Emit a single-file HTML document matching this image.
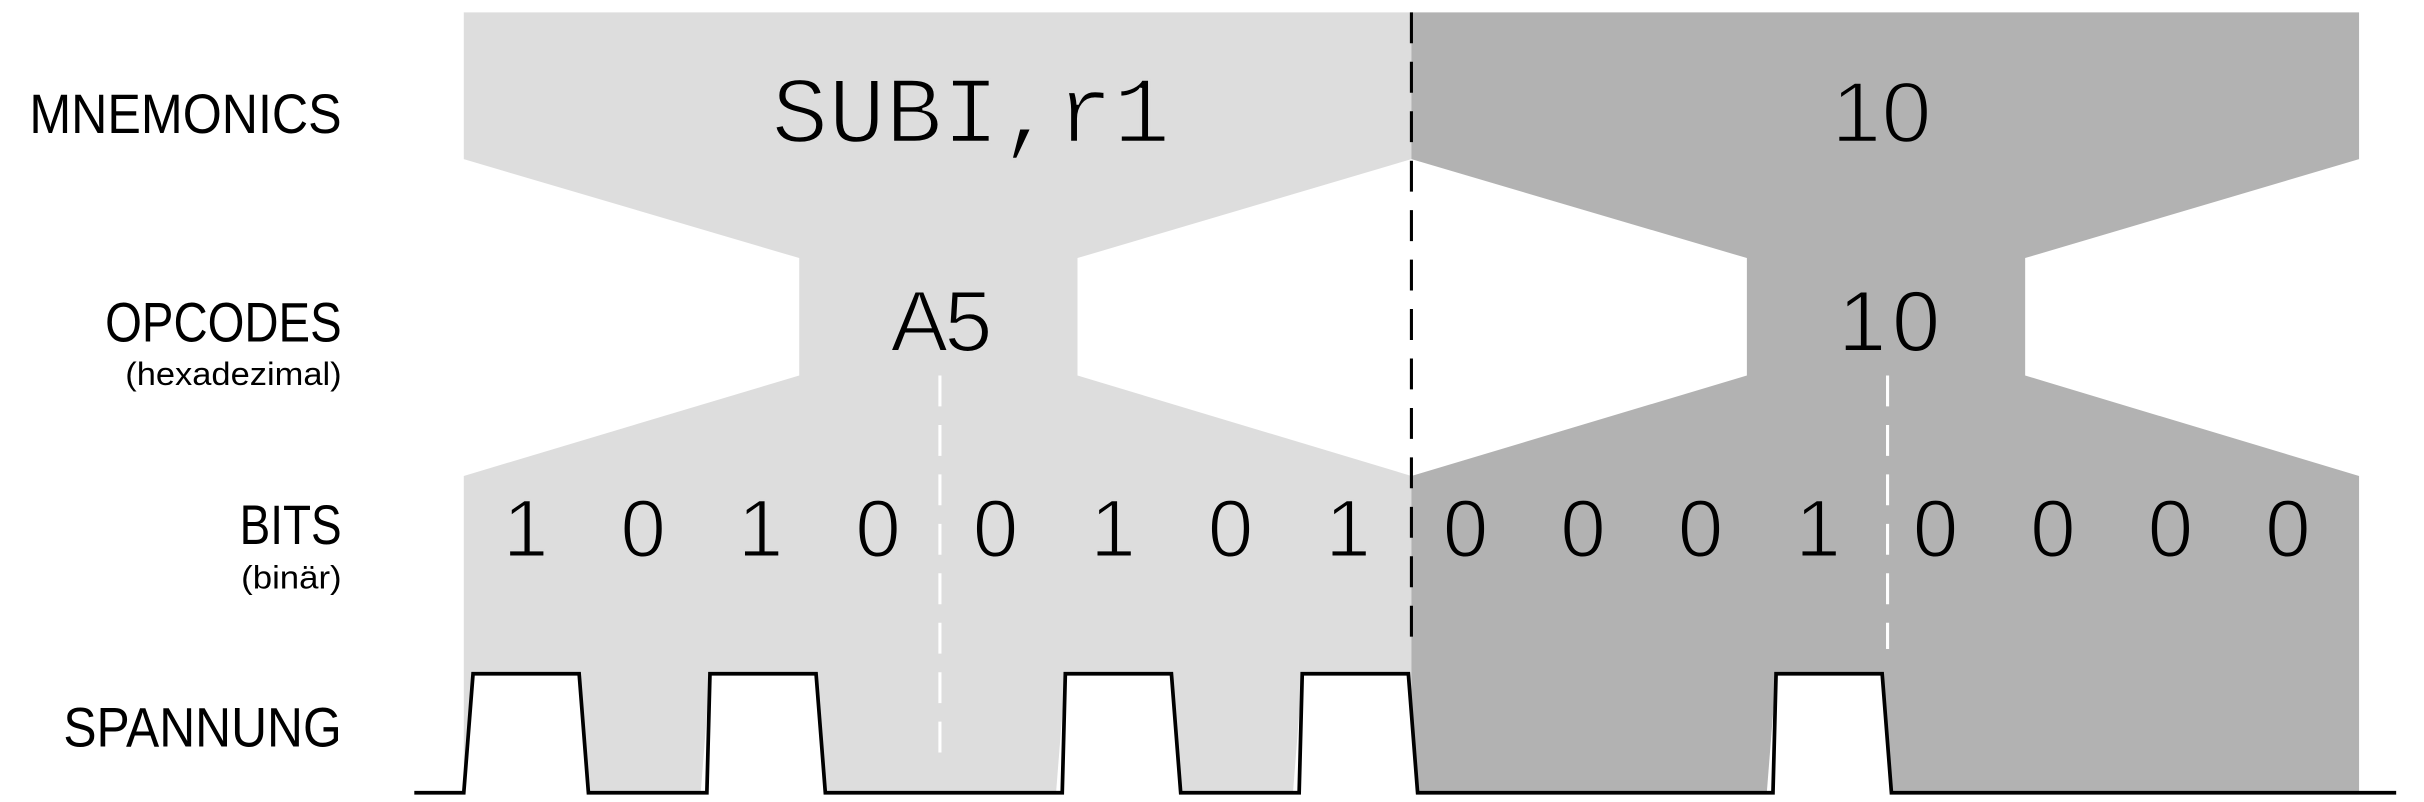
<!DOCTYPE html>
<html><head><meta charset="utf-8"><style>
html,body{margin:0;padding:0;background:#fff;}
svg{display:block;}
.lab{font-family:"Liberation Sans",sans-serif;fill:#000;}
.mono{font-family:"Liberation Sans",sans-serif;fill:#000;}
.mm{font-family:"Liberation Mono",monospace;fill:#000;}
</style></head><body>
<svg id="chart" width="2424" height="802" viewBox="0 0 1568 519" preserveAspectRatio="none" xmlns="http://www.w3.org/2000/svg">
<g id="shapes"></g>
<g id="labels">
<text class="lab" x="221" y="86" font-size="36" text-anchor="end" textLength="202" lengthAdjust="spacingAndGlyphs">MNEMONICS</text>
<text class="lab" x="221" y="221" font-size="36" text-anchor="end" textLength="153" lengthAdjust="spacingAndGlyphs">OPCODES</text>
<text class="lab" x="221" y="249" font-size="21" text-anchor="end" textLength="140" lengthAdjust="spacingAndGlyphs">(hexadezimal)</text>
<text class="lab" x="221" y="352" font-size="36" text-anchor="end" textLength="66" lengthAdjust="spacingAndGlyphs">BITS</text>
<text class="lab" x="221" y="381" font-size="21" text-anchor="end" textLength="65" lengthAdjust="spacingAndGlyphs">(binär)</text>
<text class="lab" x="221" y="483" font-size="36" text-anchor="end" textLength="180" lengthAdjust="spacingAndGlyphs">SPANNUNG</text>
</g>
</svg>
<script>
const bits = [1,0,1,0,0,1,0,1,0,0,0,1,0,0,0,0];
const bytes = ["A5","10"];
const mnemonics = ["SUBI,r1","10"];
const NS="http://www.w3.org/2000/svg";
const svg=document.getElementById('chart');
const shapes=document.getElementById('shapes');
const X0=300, BYTEW=613, BITW=BYTEW/8;
const colors=["#dddddd","#b2b2b2"];
const mnX=[628,1217];
const mnLen=[258,65];
const mnCls=['mm','mono'];
function el(tag,attrs,parent){const e=document.createElementNS(NS,tag);for(const k in attrs)e.setAttribute(k,attrs[k]);(parent||svg).appendChild(e);return e;}
bytes.forEach((b,i)=>{
  const L=X0+i*BYTEW, R=L+BYTEW, nl=L+217, nr=L+397, c=L+307;
  const pts=[[L,8],[R,8],[R,103],[nr,167],[nr,243],[R,308],[R,512],[L,512],[L,308],[nl,243],[nl,167],[L,103]];
  const p=el('polygon',{points:pts.map(q=>q.join(',')).join(' '),fill:colors[i]},shapes);
  
  
  const t=el('text',{x:mnX[i],y:92,'font-size':i?56:61,'text-anchor':'middle',class:mnCls[i],textLength:mnLen[i],lengthAdjust:'spacingAndGlyphs',stroke:colors[i],'stroke-width':1.6});
  t.textContent=mnemonics[i];
  
  
  const o=el('text',{x:c+2,y:227,'font-size':56,'text-anchor':'middle',class:'mono',textLength:66,lengthAdjust:'spacing',stroke:colors[i],'stroke-width':1.3});
  o.textContent=b;
  
  
  const d=el('line',{x1:L+308,y1:243,x2:L+308,y2:i?420:495,stroke:'#fff','stroke-width':2,'stroke-dasharray':'20 12'});
  
  
});
bits.forEach((v,i)=>{
  const t=el('text',{x:302+76*(i+0.5),y:360,'font-size':53,'text-anchor':'middle',class:'mono',stroke:colors[i<8?0:1],'stroke-width':1.3});
  t.textContent=String(v);
  
  
});
const byteDiv=el('line',{x1:913,y1:8,x2:913,y2:420,stroke:'#000','stroke-width':2,'stroke-dasharray':'20 12'});


const HI=436, LO=513;
let d='M268,'+LO+' L'+X0+','+LO;
bits.forEach((v,i)=>{
  const a=X0+i*BITW, b=a+BITW;
  if(v){
    d+=' L'+(a+6)+','+HI+' L'+(b-2)+','+HI+' L'+(b+4)+','+LO;
  } else {
    d+=' L'+(b+4)+','+LO;
  }
});
d+=' L1550,'+LO;
const sig=el('path',{d:d,fill:'none',stroke:'#000','stroke-width':2.4});


bits.forEach((v,i)=>{
  if(!v) return;
  const a=X0+i*BITW, b=a+BITW;
  const f=el('polygon',{points:(a+6)+','+(HI+1)+' '+(b-2)+','+(HI+1)+' '+(b+4)+','+LO+' '+a+','+LO,fill:'#fff'},shapes);
  
  
});
</script>
</body></html>
